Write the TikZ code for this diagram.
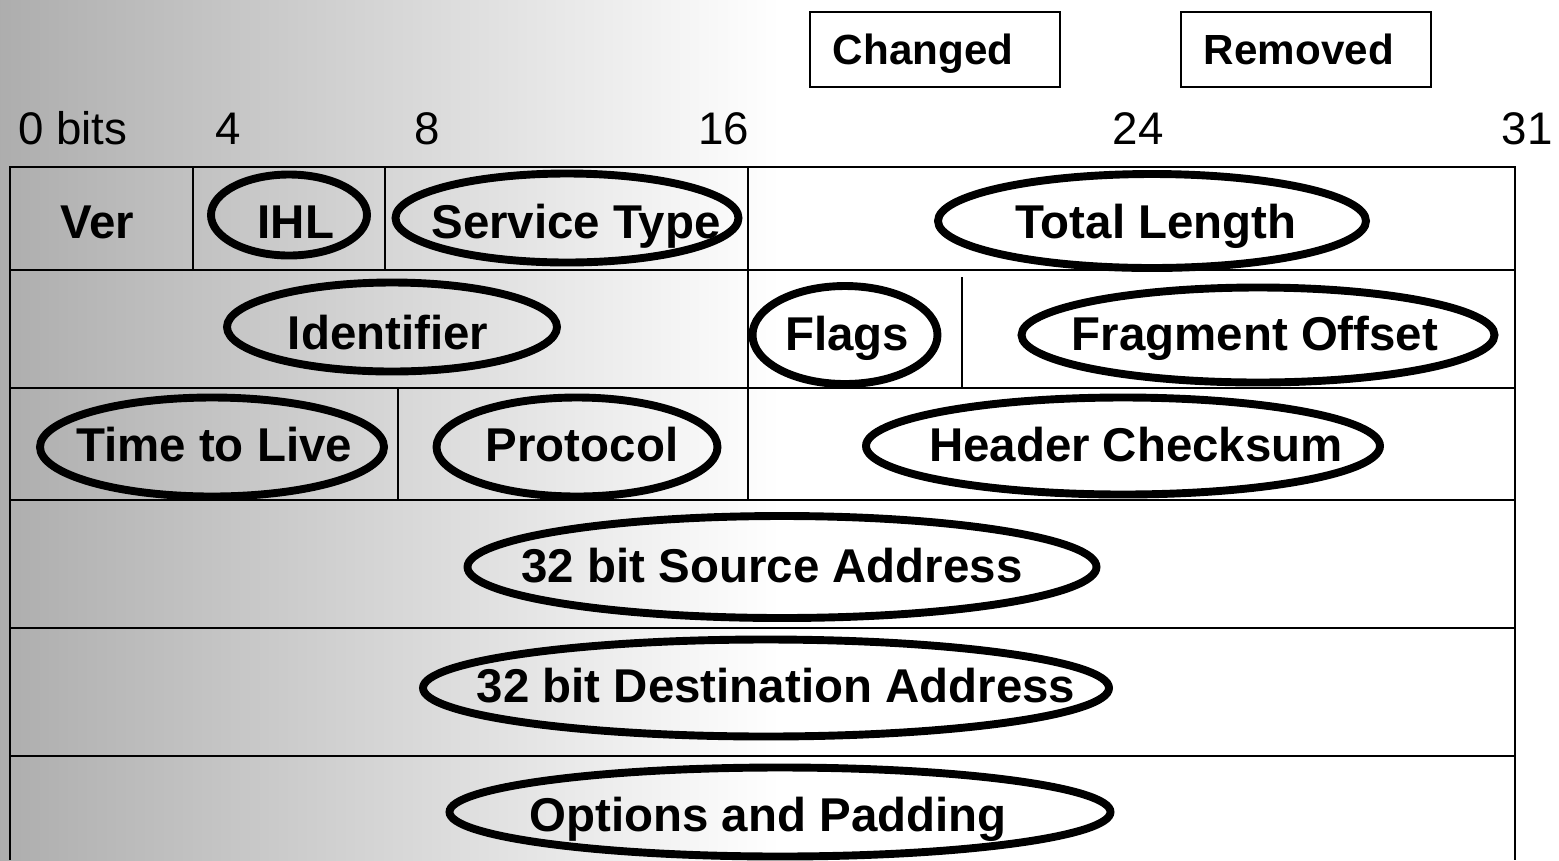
\documentclass[tikz,border=0pt]{standalone}
\usepackage{fontspec}
\setmainfont{Liberation Sans}

\begin{document}
\begin{tikzpicture}[x=0.02cm, y=-0.02cm,
	grid/.style={line width=1.1pt},
	ring/.style={line width=4.5pt},
	field/.style={font=\bfseries\fontsize{27}{32}\selectfont, inner sep=0pt, text height=19.3pt, text depth=0pt},
	bits/.style={font=\fontsize{26}{31}\selectfont, anchor=base, inner sep=0pt},
	legend/.style={draw, line width=1.1pt, anchor=west, font=\bfseries\fontsize{24}{29}\selectfont, text width=4.08cm, inner xsep=0.46cm, minimum height=1.5cm, text height=17.2pt, text depth=0pt}]
	\useasboundingbox (0,0) rectangle (1559,860);
	\fill [white] (0,0) rectangle (1559,860);
	\shade [left color=black!32, right color=white] (0,0) rectangle (780,860);
	\node [legend] (changed) at (809,49.5) {Changed};
	\node [legend] (removed) at (1180,49.5) {Removed};
	\node [bits] (b0) at (73,144) {0 bits};
	\node [bits] (b4) at (228,144) {4};
	\node [bits] (b8) at (427,144) {8};
	\node [bits] (b16) at (724,144) {16};
	\node [bits] (b24) at (1138,144) {24};
	\node [bits] (b31) at (1527,144) {31};
	\draw [grid] (10,860) -- (10,167) -- (1515,167) -- (1515,860);
	\foreach \y in {270,388,500,628,756}
		\draw [grid] (10,\y) -- (1515,\y);
	\draw [grid] (193,167) -- (193,270)  (385,167) -- (385,270)  (748,167) -- (748,500);
	\draw [grid] (962,277) -- (962,388)  (398,388) -- (398,500);
	\node [field] (ver) at (97,222) {Ver};
	\node [field] (ihl) at (296,222) {IHL};
	\node [field] (tos) at (576,222) {Service Type};
	\node [field] (totlen) at (1156,222) {Total Length};
	\node [field] (ident) at (388,333) {Identifier};
	\node [field] (flags) at (847,334) {Flags};
	\node [field] (fragoff) at (1255,334) {Fragment Offset};
	\node [field] (ttl) at (214,445) {Time to Live};
	\node [field] (proto) at (582,445) {Protocol};
	\node [field] (chksum) at (1136,445) {Header Checksum};
	\node [field] (srcaddr) at (772,566) {32 bit Source Address};
	\node [field] (dstaddr) at (776,686) {32 bit Destination Address};
	\node [field] (options) at (768,815) {Options and Padding};
	\draw [ring] (289,215) ellipse [x radius=78, y radius=40.5];
	\draw [ring] (567,218) ellipse [x radius=171.5, y radius=44.5];
	\draw [ring] (1152,221) ellipse [x radius=214, y radius=47];
	\draw [ring] (392,327) ellipse [x radius=165, y radius=44.5];
	\draw [ring] (845,335) ellipse [x radius=92.5, y radius=49];
	\draw [ring] (1258,335) ellipse [x radius=236.5, y radius=47.5];
	\draw [ring] (212,447) ellipse [x radius=172, y radius=49.5];
	\draw [ring] (577,447) ellipse [x radius=140.5, y radius=49.5];
	\draw [ring] (1123,446) ellipse [x radius=257, y radius=48.5];
	\draw [ring] (782,567) ellipse [x radius=314.5, y radius=51];
	\draw [ring] (766,688) ellipse [x radius=343, y radius=48.5];
	\draw [ring] (780,812) ellipse [x radius=330.5, y radius=44.5];
\end{tikzpicture}
\end{document}
